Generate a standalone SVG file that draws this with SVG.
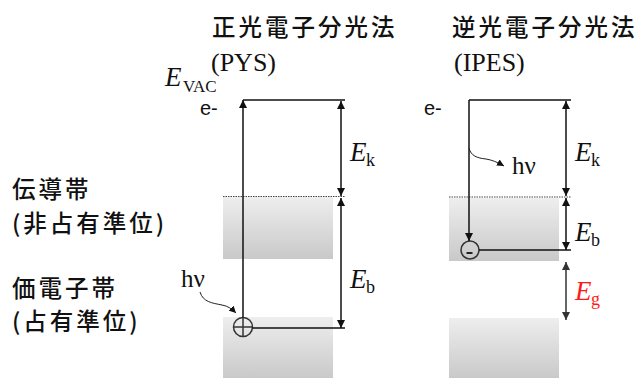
<svg xmlns="http://www.w3.org/2000/svg" width="639" height="378" viewBox="0 0 639 378">
<defs>
<linearGradient id="band" x1="0" y1="0" x2="0" y2="1">
<stop offset="0" stop-color="#eeeeee"/>
<stop offset="1" stop-color="#c9c9c9"/>
</linearGradient>
<marker id="ah" viewBox="0 0 10 10" refX="10" refY="5" markerWidth="8" markerHeight="8" markerUnits="userSpaceOnUse" orient="auto-start-reverse">
<path d="M0,0 L10,5 L0,10 z" fill="#111"/>
</marker>
<marker id="ahg" viewBox="0 0 10 10" refX="10" refY="5" markerWidth="8" markerHeight="8" markerUnits="userSpaceOnUse" orient="auto-start-reverse">
<path d="M0,0 L10,5 L0,10 z" fill="#333"/>
</marker>
<marker id="ahs" viewBox="0 0 10 10" refX="10" refY="5" markerWidth="7" markerHeight="7" markerUnits="userSpaceOnUse" orient="auto">
<path d="M0,0 L10,5 L0,10 z" fill="#111"/>
</marker>
</defs>
<style>
.jp{font-family:"Noto Sans CJK JP","Noto Sans CJK SC",sans-serif;font-size:23.5px;letter-spacing:3px;fill:#111;font-weight:500}
.ser{font-family:"Liberation Serif",serif;fill:#111}
.san{font-family:"Liberation Sans",sans-serif;fill:#111}
.ln{stroke:#111;stroke-width:1.5;fill:none}
.dot{stroke:#444;stroke-width:1.2;stroke-dasharray:1.5 1;fill:none}
.band{fill:url(#band)}
.circ{stroke:#333;stroke-width:1.5;fill:none}
</style>

<g id="titles">
<text class="jp" x="212" y="36">正光電子分光法</text>
<text class="ser" x="211" y="71" font-size="26">(PYS)</text>
<text class="jp" x="452" y="36">逆光電子分光法</text>
<text class="ser" x="454" y="71" font-size="26">(IPES)</text>
</g>

<g id="side-labels">
<text class="jp" x="12" y="198">伝導帯</text>
<text class="jp" x="12" y="232">(非占有準位)</text>
<text class="jp" x="12" y="297">価電子帯</text>
<text class="jp" x="12" y="330">(占有準位)</text>
</g>

<g id="pys-bands">
<rect class="band" x="223" y="197" width="110" height="62"/>
<rect class="band" x="223" y="317" width="110" height="61"/>
<line class="dot" x1="223" y1="196.5" x2="345" y2="196.5"/>
</g>

<g id="ipes-bands">
<rect class="band" x="449" y="198" width="110" height="63"/>
<rect class="band" x="449" y="318" width="110" height="60"/>
<line class="dot" x1="449" y1="197" x2="571" y2="197"/>
</g>

<g id="pys-labels">
<text class="ser" x="165" y="86" font-size="27" font-style="italic">E</text>
<text class="ser" x="183" y="92" font-size="17">VAC</text>
<text class="san" x="200" y="115" font-size="20">e-</text>
<text class="ser" x="350" y="161" font-size="27" font-style="italic">E</text>
<text class="ser" x="366" y="166" font-size="18">k</text>
<text class="ser" x="350" y="288" font-size="27" font-style="italic">E</text>
<text class="ser" x="366" y="293" font-size="18">b</text>
<text class="ser" x="181" y="287" font-size="25">hν</text>
</g>

<g id="ipes-labels">
<text class="san" x="424" y="115" font-size="20">e-</text>
<text class="ser" x="512" y="174" font-size="25">hν</text>
<text class="ser" x="575" y="161" font-size="27" font-style="italic">E</text>
<text class="ser" x="591" y="166" font-size="18">k</text>
<text class="ser" x="575" y="241" font-size="27" font-style="italic">E</text>
<text class="ser" x="591" y="246" font-size="18">b</text>
<text class="ser" x="575" y="300" font-size="27" font-style="italic" style="fill:#ff1a1a">E</text>
<text class="ser" x="591" y="305" font-size="18" style="fill:#ff1a1a">g</text>
</g>

<g id="pys-hole">
<circle class="circ" cx="243" cy="327" r="9.5"/>
<line class="circ" x1="233.5" y1="327" x2="252.5" y2="327"/>
<line class="circ" x1="243" y1="317.5" x2="243" y2="336.5"/>
</g>

<g id="ipes-electron">
<circle class="circ" cx="470" cy="250" r="9"/>
<line stroke="#222" stroke-width="2" x1="466.5" y1="253" x2="472.5" y2="253"/>
</g>

<g id="connectors">
<path class="ln" d="M243,317.5 L243,100" marker-end="url(#ah)"/>
<path class="ln" d="M243,100 L345,100"/>
<path class="ln" d="M341,101 L341,196" marker-start="url(#ah)" marker-end="url(#ah)"/>
<path class="ln" d="M341,198 L341,328" marker-start="url(#ah)" marker-end="url(#ah)"/>
<path class="ln" d="M252.5,328 L345,328"/>
<path d="M200,292 C203,302 212,303 222,305 C228,306 232,309 236,313" stroke="#222" stroke-width="1" fill="none" marker-end="url(#ahs)"/>

<path class="ln" d="M469,100 L571,100"/>
<path class="ln" d="M469,100 L469,241" marker-end="url(#ah)"/>
<path class="ln" d="M566,101 L566,196" marker-start="url(#ah)" marker-end="url(#ah)"/>
<path class="ln" d="M566,198 L566,250" marker-start="url(#ah)" marker-end="url(#ah)"/>
<path class="ln" d="M479,250 L571,250"/>
<path d="M566,262 L566,320" stroke="#333" stroke-width="1.5" fill="none" marker-start="url(#ahg)" marker-end="url(#ahg)"/>
<path d="M469,148 C471,156 477,158 486,159 C492,160 497,162 504,166" stroke="#222" stroke-width="1" fill="none" marker-end="url(#ahs)"/>
</g>
</svg>
